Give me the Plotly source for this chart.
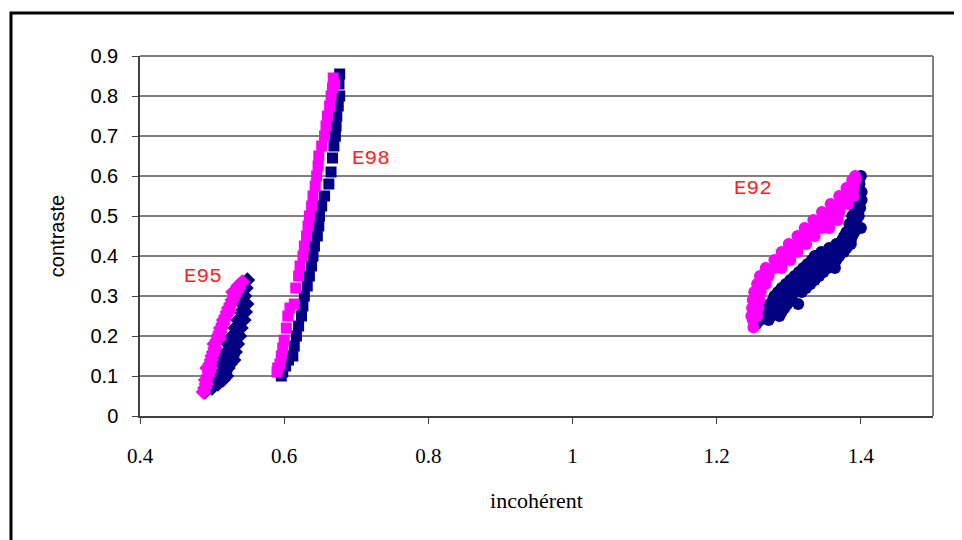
import plotly.graph_objects as go

# ---- data ----
e95_navy_x = [0.490, 0.495, 0.500, 0.498, 0.508, 0.495, 0.505, 0.515, 0.500, 0.512, 0.520, 0.505, 0.518,
              0.510, 0.522, 0.508, 0.525, 0.515, 0.530, 0.518, 0.528, 0.520, 0.532, 0.522, 0.535, 0.528,
              0.538, 0.532, 0.540, 0.536, 0.544, 0.540, 0.546, 0.542, 0.548, 0.545, 0.547, 0.549]
e95_navy_y = [0.060, 0.070, 0.070, 0.080, 0.080, 0.090, 0.090, 0.090, 0.100, 0.100, 0.100, 0.110, 0.110,
              0.120, 0.120, 0.130, 0.130, 0.140, 0.140, 0.150, 0.150, 0.160, 0.160, 0.180, 0.180, 0.200,
              0.200, 0.220, 0.220, 0.240, 0.240, 0.260, 0.260, 0.280, 0.280, 0.300, 0.320, 0.340]

e95_mag_x = [0.488, 0.490, 0.492, 0.491, 0.494, 0.496, 0.493, 0.497, 0.499, 0.500, 0.502, 0.504, 0.503,
             0.507, 0.508, 0.511, 0.512, 0.515, 0.516, 0.519, 0.521, 0.523, 0.526, 0.528, 0.531, 0.534,
             0.537, 0.539, 0.542, 0.536, 0.524, 0.510, 0.498, 0.529]
e95_mag_y = [0.060, 0.070, 0.080, 0.090, 0.100, 0.110, 0.120, 0.130, 0.140, 0.150, 0.160, 0.170, 0.180,
             0.190, 0.200, 0.210, 0.220, 0.230, 0.240, 0.250, 0.260, 0.270, 0.280, 0.290, 0.300, 0.310,
             0.320, 0.330, 0.335, 0.325, 0.262, 0.195, 0.120, 0.310]

e98_navy_x = [0.596, 0.598, 0.602, 0.606, 0.612, 0.614, 0.617, 0.620, 0.624, 0.626, 0.628, 0.632, 0.635,
              0.638, 0.640, 0.642, 0.646, 0.648, 0.649, 0.652, 0.656, 0.662, 0.665, 0.667, 0.669, 0.671,
              0.672, 0.673, 0.675, 0.677, 0.676, 0.677]
e98_navy_y = [0.100, 0.110, 0.125, 0.140, 0.150, 0.175, 0.200, 0.225, 0.250, 0.275, 0.300, 0.325, 0.350,
              0.375, 0.400, 0.425, 0.450, 0.475, 0.500, 0.525, 0.550, 0.580, 0.610, 0.645, 0.675, 0.700,
              0.725, 0.750, 0.775, 0.800, 0.830, 0.855]

e98_mag_x = [0.590, 0.591, 0.594, 0.596, 0.598, 0.600, 0.603, 0.605, 0.608, 0.614, 0.616, 0.620, 0.622,
             0.626, 0.628, 0.631, 0.633, 0.635, 0.638, 0.640, 0.643, 0.645, 0.647, 0.648, 0.652, 0.656,
             0.658, 0.660, 0.663, 0.665, 0.667, 0.670, 0.668]
e98_mag_y = [0.110, 0.120, 0.130, 0.150, 0.170, 0.190, 0.220, 0.250, 0.270, 0.280, 0.320, 0.350, 0.375,
             0.400, 0.425, 0.450, 0.475, 0.500, 0.525, 0.550, 0.575, 0.600, 0.625, 0.650, 0.675, 0.700,
             0.725, 0.750, 0.775, 0.800, 0.820, 0.830, 0.845]

e92_navy_x = [1.255,
              1.260, 1.272,
              1.263, 1.275, 1.287,
              1.266, 1.278, 1.290,
              1.270, 1.282, 1.294,
              1.274, 1.286, 1.298,
              1.278, 1.290, 1.302,
              1.280, 1.292, 1.304,
              1.285, 1.297, 1.309, 1.318,
              1.290, 1.302, 1.314, 1.324,
              1.296, 1.308, 1.320, 1.330,
              1.302, 1.314, 1.326, 1.336,
              1.308, 1.320, 1.332, 1.342,
              1.314, 1.326, 1.338, 1.348,
              1.320, 1.332, 1.344, 1.354,
              1.326, 1.338, 1.350, 1.360,
              1.332, 1.344, 1.356, 1.366,
              1.336, 1.348, 1.360, 1.370,
              1.345, 1.357, 1.369, 1.376,
              1.356, 1.368, 1.380,
              1.366, 1.378, 1.386,
              1.374, 1.386,
              1.377, 1.388,
              1.380, 1.391,
              1.384, 1.394,
              1.388, 1.397,
              1.391, 1.399,
              1.393, 1.401,
              1.395, 1.401,
              1.398,
              1.400,
              1.313, 1.364, 1.400]
e92_navy_y = [0.230,
              0.240, 0.240,
              0.250, 0.250, 0.250,
              0.260, 0.260, 0.260,
              0.270, 0.270, 0.270,
              0.280, 0.280, 0.280,
              0.290, 0.290, 0.290,
              0.300, 0.300, 0.300,
              0.310, 0.310, 0.310, 0.310,
              0.320, 0.320, 0.320, 0.320,
              0.330, 0.330, 0.330, 0.330,
              0.340, 0.340, 0.340, 0.340,
              0.350, 0.350, 0.350, 0.350,
              0.360, 0.360, 0.360, 0.360,
              0.370, 0.370, 0.370, 0.370,
              0.380, 0.380, 0.380, 0.380,
              0.390, 0.390, 0.390, 0.390,
              0.400, 0.400, 0.400, 0.400,
              0.410, 0.410, 0.410, 0.410,
              0.420, 0.420, 0.420,
              0.430, 0.430, 0.430,
              0.440, 0.440,
              0.450, 0.450,
              0.460, 0.460,
              0.480, 0.480,
              0.500, 0.500,
              0.520, 0.520,
              0.540, 0.540,
              0.560, 0.560,
              0.580,
              0.600,
              0.280, 0.370, 0.470]

e92_mag_x = [1.251,
             1.250,
             1.248, 1.256,
             1.249, 1.258,
             1.250, 1.259,
             1.252, 1.261,
             1.256, 1.268,
             1.260, 1.272,
             1.268, 1.280, 1.290,
             1.280, 1.292, 1.302,
             1.290, 1.302, 1.312,
             1.300, 1.312, 1.324,
             1.312, 1.324, 1.336,
             1.322, 1.334, 1.346, 1.356,
             1.334, 1.346, 1.358, 1.368,
             1.346, 1.358, 1.370,
             1.358, 1.370, 1.382,
             1.370, 1.382, 1.390,
             1.380, 1.390,
             1.388, 1.393,
             1.392]
e92_mag_y = [0.222,
             0.240,
             0.250, 0.250,
             0.270, 0.270,
             0.290, 0.290,
             0.310, 0.310,
             0.330, 0.330,
             0.350, 0.350,
             0.370, 0.370, 0.370,
             0.390, 0.390, 0.390,
             0.410, 0.410, 0.410,
             0.430, 0.430, 0.430,
             0.450, 0.450, 0.450,
             0.470, 0.470, 0.470, 0.470,
             0.490, 0.490, 0.490, 0.490,
             0.510, 0.510, 0.510,
             0.530, 0.530, 0.530,
             0.550, 0.550, 0.550,
             0.570, 0.570,
             0.590, 0.590,
             0.600]

labels = ["E95", "E98", "E92"]
label_x = [0.487, 0.721, 1.251]
label_y = [0.348, 0.643, 0.570]

x_ticks = [0.4, 0.6, 0.8, 1.0, 1.2, 1.4]
x_tick_text = ["0.4", "0.6", "0.8", "1", "1.2", "1.4"]
y_ticks = [0, 0.1, 0.2, 0.3, 0.4, 0.5, 0.6, 0.7, 0.8, 0.9]
y_tick_text = ["0", "0.1", "0.2", "0.3", "0.4", "0.5", "0.6", "0.7", "0.8", "0.9"]

NAVY = "#000080"
MAG = "#FF00FF"

fig = go.Figure()

def add(x, y, color, symbol, size):
    fig.add_trace(go.Scatter(x=x, y=y, mode="markers",
                             marker=dict(color=color, symbol=symbol, size=size, line=dict(width=0)),
                             showlegend=False, hoverinfo="skip"))

add(e95_navy_x, e95_navy_y, NAVY, "diamond", 12)
add(e95_mag_x, e95_mag_y, MAG, "diamond", 12)
add(e98_navy_x, e98_navy_y, NAVY, "square", 11)
add(e98_mag_x, e98_mag_y, MAG, "square", 11)
add(e92_navy_x, e92_navy_y, NAVY, "circle", 12)
add(e92_mag_x, e92_mag_y, MAG, "circle", 12)

for t, lx, ly in zip(labels, label_x, label_y):
    fig.add_annotation(x=lx, y=ly, text=t, showarrow=False,
                       font=dict(family="Liberation Mono, Courier New, monospace", size=21, color="#FF2020"))

# page body offsets the figure by 8px; margins compensate
L, R, T, B = 132, 37, 48, 132
PW = 962 - L - R
PH = 540 - T - B

# outer frame (chart area border)
fig.add_shape(type="rect", xref="paper", yref="paper",
              x0=(3 - L) / PW, x1=1.2, y0=-0.6, y1=(PH + T - 5) / PH,
              line=dict(color="black", width=3), fillcolor="rgba(0,0,0,0)", layer="below")

fig.update_layout(
    width=962, height=540,
    margin=dict(l=L, r=R, t=T, b=B),
    paper_bgcolor="white", plot_bgcolor="white",
    xaxis=dict(range=[0.4, 1.5], tickvals=x_ticks, ticktext=x_tick_text,
               showgrid=False, zeroline=False,
               showline=True, linecolor="#404040", linewidth=2, mirror=False,
               ticks="outside", ticklen=6, tickcolor="#404040", tickwidth=1,
               ticklabelstandoff=14,
               tickfont=dict(family="Liberation Serif, serif", size=21, color="black"),
               title=dict(text="incohérent", standoff=25,
                          font=dict(family="Liberation Serif, serif", size=22, color="black"))),
    yaxis=dict(range=[0, 0.9], tickvals=y_ticks, ticktext=y_tick_text,
               showgrid=True, gridcolor="#808080", gridwidth=1.5, zeroline=False,
               showline=True, linecolor="#404040", linewidth=1.5,
               ticks="outside", ticklen=6, tickcolor="#404040", tickwidth=1,
               ticklabelstandoff=10,
               tickfont=dict(family="Liberation Sans, Arial, sans-serif", size=20, color="black"),
               title=dict(text="contraste", standoff=20,
                          font=dict(family="Liberation Sans, Arial, sans-serif", size=20, color="black"))),
)

# plot-area border on top and right (gray)
fig.add_shape(type="line", xref="paper", yref="paper", x0=0, x1=1, y0=1, y1=1,
              line=dict(color="#808080", width=2))
fig.add_shape(type="line", xref="paper", yref="paper", x0=1, x1=1, y0=0, y1=1,
              line=dict(color="#808080", width=2))

fig.write_html("out.html")
